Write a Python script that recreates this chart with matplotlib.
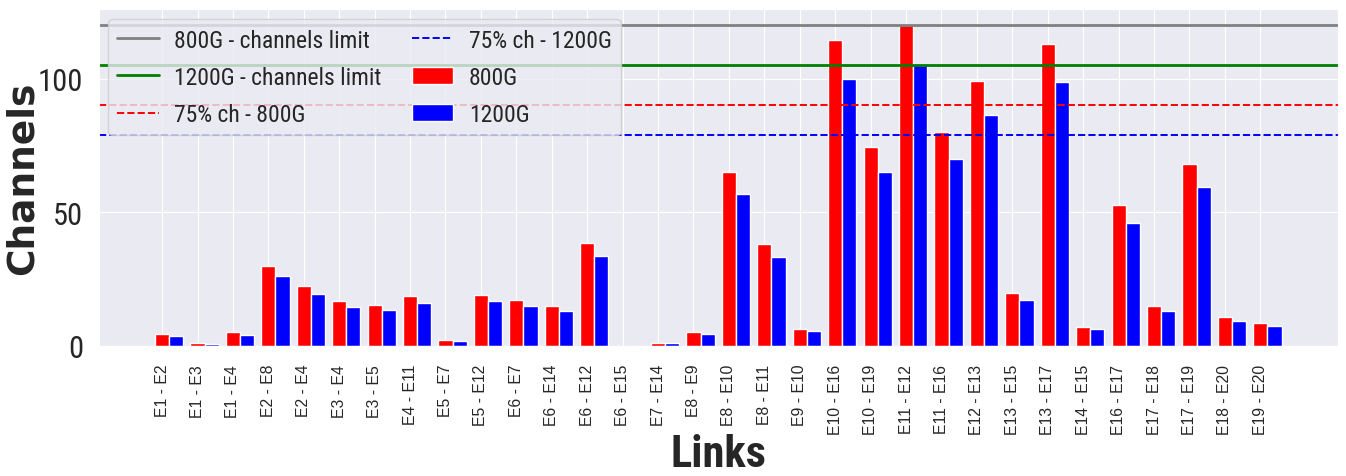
import matplotlib
matplotlib.use("Agg")
import matplotlib.pyplot as plt
import seaborn as sns
import numpy as np
from matplotlib import font_manager

links = ["E1 - E2", "E1 - E3", "E1 - E4", "E2 - E8", "E2 - E4", "E3 - E4", "E3 - E5",
         "E4 - E11", "E5 - E7", "E5 - E12", "E6 - E7", "E6 - E14", "E6 - E12", "E6 - E15",
         "E7 - E14", "E8 - E9", "E8 - E10", "E8 - E11", "E9 - E10", "E10 - E16", "E10 - E19",
         "E11 - E12", "E11 - E16", "E12 - E13", "E13 - E15", "E13 - E17", "E14 - E15",
         "E16 - E17", "E17 - E18", "E17 - E19", "E18 - E20", "E19 - E20"]
ch_800 = [4.5, 0.9, 5.0, 30.0, 22.3, 16.6, 15.3, 18.5, 2.1, 19.0, 17.1, 15.0, 38.6, 0.0,
          1.2, 5.0, 65.0, 37.9, 6.3, 114.4, 74.5, 120.0, 79.8, 98.9, 19.8, 112.9, 7.0,
          52.7, 14.9, 68.1, 10.7, 8.6]
ch_1200 = [3.8, 0.7, 4.2, 26.1, 19.4, 14.5, 13.3, 16.0, 1.7, 16.6, 14.9, 13.0, 33.5, 0.0,
           1.0, 4.3, 56.9, 33.2, 5.5, 100.0, 65.2, 105.0, 69.7, 86.5, 17.1, 98.6, 6.1,
           46.1, 13.0, 59.4, 9.3, 7.3]
limit_800 = 120
limit_1200 = 105
pct75_800 = 90
pct75_1200 = 78.75

sns.set_style("darkgrid")


def _w(v):
    if isinstance(v, str):
        return font_manager.weight_dict.get(v, 400)
    return v


def pick(cands, weight=400):
    for c in cands:
        for f in font_manager.fontManager.ttflist:
            if f.name == c and abs(_w(f.weight) - weight) <= 50 and f.style == "normal":
                return c
    return "DejaVu Sans"


narrow_list = ["Liberation Sans Narrow", "Arial Narrow", "Nimbus Sans Narrow", "Roboto Condensed",
               "PT Sans Narrow", "Archivo Narrow", "Open Sans Condensed", "Asap Condensed",
               "Barlow Condensed"]
narrow = pick(narrow_list, 400)
narrow_bold = pick(narrow_list, 700)
heavy = "DejaVu Sans"

fig, ax = plt.subplots(figsize=(13.46, 4.77), dpi=100)
fig.subplots_adjust(left=0.0733, right=0.994, top=0.979, bottom=0.273)

x = np.arange(len(links))
w = 0.4
ax.axhline(limit_800, color="grey", lw=2, label="800G - channels limit")
ax.axhline(limit_1200, color="green", lw=2, label="1200G - channels limit")
ax.axhline(pct75_800, color="red", lw=1.4, ls="--", label="75% ch - 800G")
ax.axhline(pct75_1200, color="blue", lw=1.4, ls="--", label="75% ch - 1200G")
ax.bar(x, ch_800, width=w, color="red", edgecolor="white", linewidth=1, label="800G")
ax.bar(x + w, ch_1200, width=w, color="blue", edgecolor="white", linewidth=1, label="1200G")

ax.set_xticks(x)
ax.set_xticklabels(links, rotation=90, fontsize=11.3, family=["Liberation Sans", "DejaVu Sans"],
                   color="#262626")
ax.set_yticks([0, 50, 100])
for lbl in ax.get_yticklabels():
    lbl.set_family([narrow, "DejaVu Sans"])
    lbl.set_fontsize(22)
    lbl.set_color("#262626")
ax.tick_params(axis="x", pad=9.5)
ax.tick_params(axis="y", pad=7.5)

ax.set_xlabel("Links", fontsize=32, fontweight="bold", family=[narrow_bold, "DejaVu Sans"],
              color="#262626", va="bottom")
ax.xaxis.set_label_coords(0.5, -0.385)
ax.set_ylabel("Channels", fontsize=27, fontweight="bold", family=[heavy],
              color="#262626", va="baseline")
ax.yaxis.set_label_coords(-0.053, 0.5)

leg = ax.legend(loc="upper left", ncol=2, prop={"family": [narrow, "DejaVu Sans"], "size": 17},
                bbox_to_anchor=(0.0075, 0.970), borderaxespad=0, handlelength=1.75,
                handletextpad=0.65, columnspacing=1.3, labelspacing=0.6, framealpha=0.8)

fig.savefig("out.png", dpi=100)
